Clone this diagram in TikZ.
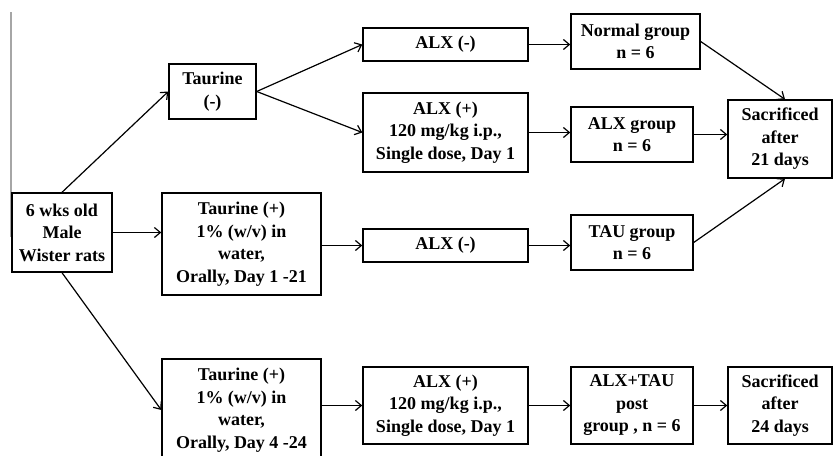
\documentclass[tikz,border=0pt]{standalone}
\usepackage{fontspec}
\setmainfont{Liberation Serif}
\usetikzlibrary{arrows.meta}
\begin{document}
\begin{tikzpicture}[x=1pt,y=-1pt,
  box/.style={draw=black,line width=1.4pt,rectangle,align=center,inner sep=0pt,
    font=\fontsize{18}{22.5}\selectfont\bfseries},
  arr/.style={line width=1.2pt,-{Straight Barb[length=6pt,width=10pt,line width=1.2pt]}}]
\useasboundingbox (0,0) rectangle (835,455);
\draw[gray!70,line width=1.5pt] (11,12) -- (11,237);
\node[box,minimum width=100pt,minimum height=79pt] (start) at (62,232.5) {6 wks old\\Male\\Wister rats};
\node[box,minimum width=87pt,minimum height=55pt] (tm) at (212.5,91.5) {Taurine\\(-)};
\node[box,minimum width=165pt,minimum height=33pt] (a1) at (445.5,44.5) {ALX (-)};
\node[box,minimum width=165pt,minimum height=79pt] (a2) at (445.5,132.5) {ALX (+)\\120 mg/kg i.p.,\\Single dose, Day 1};
\node[box,minimum width=129pt,minimum height=55pt] (ng) at (635.5,41.5) {Normal group\\n = 6};
\node[box,minimum width=122pt,minimum height=55pt] (ag) at (632,134.5) {ALX group\\n = 6};
\node[box,minimum width=104pt,minimum height=78pt] (s21) at (780,139) {Sacrificed\\after\\21 days};
\node[box,minimum width=159pt,minimum height=102pt] (tp1) at (241.5,244) {Taurine (+)\\1\% (w/v) in\\water,\\Orally, Day 1 -21};
\node[box,minimum width=165pt,minimum height=33pt] (a3) at (445.5,245.5) {ALX (-)};
\node[box,minimum width=122pt,minimum height=55pt] (tg) at (632,242.5) {TAU group\\n = 6};
\node[box,minimum width=159pt,minimum height=102pt] (tp2) at (241.5,410) {Taurine (+)\\1\% (w/v) in\\water,\\Orally, Day 4 -24};
\node[box,minimum width=165pt,minimum height=77pt] (a4) at (445.5,405.5) {ALX (+)\\120 mg/kg i.p.,\\Single dose, Day 1};
\node[box,minimum width=122pt,minimum height=77pt] (atg) at (632,405.5) {ALX+TAU\\post\\group , n = 6};
\node[box,minimum width=104pt,minimum height=77pt] (s24) at (780,405.5) {Sacrificed\\after\\24 days};
\draw[arr] (start.north) -- (tm.west);
\draw[arr] (tm.east) -- (a1.west);
\draw[arr] (tm.east) -- (a2.west);
\draw[arr] (a1.east) -- (a1.east -| ng.west);
\draw[arr] (a2.east) -- (a2.east -| ag.west);
\draw[arr] (ng.east) -- ([xshift=5pt]s21.north);
\draw[arr] (ag.east) -- (ag.east -| s21.west);
\draw[arr] (tg.east) -- ([xshift=5pt]s21.south);
\draw[arr] (start.east) -- (start.east -| tp1.west);
\draw[arr] (tp1.east |- a3.west) -- (a3.west);
\draw[arr] (a3.east) -- (a3.east -| tg.west);
\draw[arr] (start.south) -- (tp2.west);
\draw[arr] (tp2.east |- a4.west) -- (a4.west);
\draw[arr] (a4.east) -- (atg.west);
\draw[arr] (atg.east) -- (s24.west);
\end{tikzpicture}
\end{document}
